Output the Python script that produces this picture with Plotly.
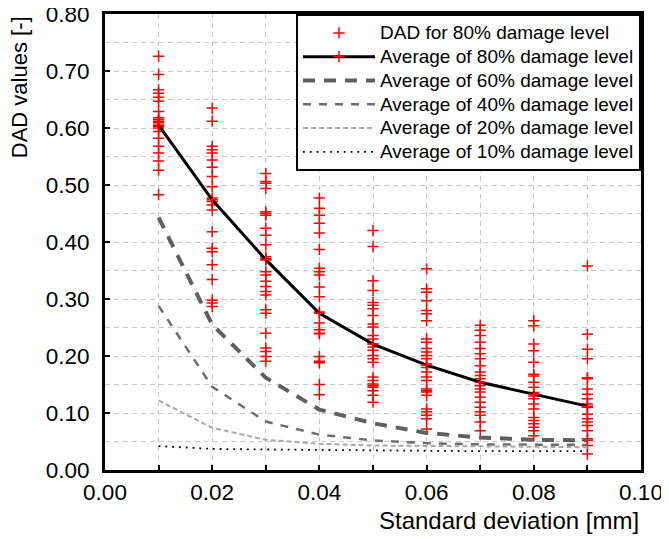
import plotly.graph_objects as go

# ---- data ----
sigma = [0.01, 0.02, 0.03, 0.04, 0.05, 0.06, 0.07, 0.08, 0.09]

dad_80_01 = [0.726, 0.694, 0.667, 0.661, 0.654, 0.647, 0.629, 0.618, 0.615, 0.609, 0.600,
             0.594, 0.582, 0.568, 0.556, 0.542, 0.526, 0.483, 0.605, 0.612, 0.603]
dad_80_02 = [0.635, 0.612, 0.568, 0.562, 0.556, 0.544, 0.531, 0.515, 0.497, 0.477, 0.471,
             0.465, 0.456, 0.418, 0.389, 0.383, 0.360, 0.334, 0.298, 0.293, 0.287]
dad_80_03 = [0.520, 0.506, 0.503, 0.494, 0.453, 0.450, 0.447, 0.424, 0.412, 0.395, 0.374,
             0.371, 0.369, 0.348, 0.342, 0.331, 0.322, 0.313, 0.307, 0.281, 0.275, 0.240,
             0.214, 0.208, 0.199, 0.191]
dad_80_04 = [0.477, 0.459, 0.447, 0.433, 0.416, 0.387, 0.354, 0.348, 0.342, 0.321, 0.304,
             0.277, 0.258, 0.246, 0.240, 0.239, 0.199, 0.191, 0.188, 0.150, 0.132]
dad_80_05 = [0.420, 0.392, 0.332, 0.315, 0.294, 0.289, 0.283, 0.271, 0.256, 0.251, 0.236,
             0.230, 0.221, 0.216, 0.210, 0.201, 0.195, 0.189, 0.163, 0.157, 0.151, 0.148,
             0.145, 0.139, 0.131, 0.119]
dad_80_06 = [0.353, 0.318, 0.312, 0.297, 0.280, 0.274, 0.262, 0.230, 0.224, 0.213, 0.207,
             0.201, 0.195, 0.186, 0.180, 0.172, 0.163, 0.157, 0.142, 0.139, 0.137, 0.131,
             0.107, 0.102, 0.096, 0.090, 0.072]
dad_80_07 = [0.254, 0.245, 0.236, 0.224, 0.213, 0.204, 0.195, 0.183, 0.172, 0.166, 0.160,
             0.148, 0.142, 0.137, 0.128, 0.119, 0.110, 0.102, 0.096, 0.084, 0.069]
dad_80_08 = [0.262, 0.253, 0.221, 0.209, 0.189, 0.168, 0.165, 0.154, 0.145, 0.136, 0.130,
             0.125, 0.116, 0.107, 0.092, 0.087, 0.081, 0.075, 0.069, 0.060]
dad_80_09 = [0.358, 0.238, 0.212, 0.195, 0.162, 0.160, 0.142, 0.133, 0.125, 0.116, 0.110,
             0.098, 0.090, 0.084, 0.078, 0.069, 0.055, 0.052, 0.043, 0.028]

avg_80 = [0.605, 0.474, 0.369, 0.275, 0.221, 0.184, 0.154, 0.133, 0.112]
avg_60 = [0.443, 0.255, 0.162, 0.106, 0.082, 0.065, 0.057, 0.053, 0.052]
avg_40 = [0.288, 0.146, 0.085, 0.062, 0.052, 0.047, 0.045, 0.045, 0.044]
avg_20 = [0.122, 0.074, 0.053, 0.046, 0.043, 0.042, 0.041, 0.040, 0.040]
avg_10 = [0.042, 0.037, 0.036, 0.035, 0.034, 0.034, 0.033, 0.033, 0.033]

x_ticks = [0.00, 0.02, 0.04, 0.06, 0.08, 0.10]
y_ticks = [0.00, 0.10, 0.20, 0.30, 0.40, 0.50, 0.60, 0.70, 0.80]

series_names = [
    "DAD for 80% damage level",
    "Average of 80% damage level",
    "Average of 60% damage level",
    "Average of 40% damage level",
    "Average of 20% damage level",
    "Average of 10% damage level",
]

# ---- build ----
columns = [dad_80_01, dad_80_02, dad_80_03, dad_80_04, dad_80_05,
           dad_80_06, dad_80_07, dad_80_08, dad_80_09]
sx, sy = [], []
for xv, col in zip(sigma, columns):
    sx += [xv] * len(col)
    sy += col

FONT = "Liberation Sans, Arial, sans-serif"
RED = "#ff0000"
cross = dict(symbol="cross-thin", size=8, color=RED, line=dict(color=RED, width=1.5))


def lname(s):
    return "<span style='font-size:19px'>" + s + "</span>"


fig = go.Figure()
fig.add_trace(go.Scatter(
    x=sx, y=sy, mode="markers", name=lname(series_names[0]), marker=cross,
))
fig.add_trace(go.Scatter(
    x=sigma, y=avg_80, mode="lines+markers", name=lname(series_names[1]),
    line=dict(color="black", width=3), marker=cross,
))
fig.add_trace(go.Scatter(
    x=sigma, y=avg_60, mode="lines", name=lname(series_names[2]),
    line=dict(color="#5f5f5f", width=4, dash="12px,9px"),
))
fig.add_trace(go.Scatter(
    x=sigma, y=avg_40, mode="lines", name=lname(series_names[3]),
    line=dict(color="#6e6e6e", width=2.5, dash="8px,8px"),
))
fig.add_trace(go.Scatter(
    x=sigma, y=avg_20, mode="lines", name=lname(series_names[4]),
    line=dict(color="#a8a8a8", width=2, dash="5px,3px"),
))
fig.add_trace(go.Scatter(
    x=sigma, y=avg_10, mode="lines", name=lname(series_names[5]),
    line=dict(color="black", width=1.8, dash="1.8px,5px"),
))

grid = dict(gridcolor="#c8c8c8", gridwidth=1, griddash="5px,4px")

fig.update_layout(
    width=661, height=531,
    margin=dict(l=97, r=28, t=6, b=69),
    paper_bgcolor="white", plot_bgcolor="white",
    font=dict(family=FONT, color="black"),
    showlegend=True,
    legend=dict(
        x=1.0, xanchor="right", y=1.0, yanchor="top",
        bgcolor="white", bordercolor="black", borderwidth=2,
        font=dict(family=FONT, size=16, color="black"),
        itemwidth=72, tracegroupgap=0,
    ),
    xaxis=dict(
        range=[0, 0.1], tickvals=x_ticks, tickformat=".2f", automargin=False,
        ticklabeloverflow="allow",
        showline=True, linecolor="black", linewidth=3, mirror=True,
        ticks="inside", ticklen=5, tickwidth=2, tickcolor="black",
        tickfont=dict(size=22.5), showgrid=True, zeroline=False,
        minor=dict(dtick=0.01, showgrid=True, ticks="inside", ticklen=5,
                   tickwidth=2, tickcolor="black", **grid),
        **grid,
    ),
    yaxis=dict(
        range=[0, 0.8], tickvals=y_ticks, tickformat=".2f", automargin=False,
        ticklabeloverflow="allow",
        showline=True, linecolor="black", linewidth=3, mirror=True,
        ticks="inside", ticklen=5, tickwidth=2, tickcolor="black",
        tickfont=dict(size=22.5), showgrid=True, zeroline=False,
        ticklabelstandoff=8,
        minor=dict(dtick=0.05, showgrid=True, ticks="", **grid),
        **grid,
    ),
    annotations=[
        dict(text="Standard deviation [mm]", xref="paper", yref="paper",
             x=1.0, xanchor="right", y=-0.11, yanchor="middle",
             showarrow=False, font=dict(family=FONT, size=24, color="black")),
        dict(text="DAD values [-]", xref="paper", yref="paper",
             x=-0.16, xanchor="center", y=1.0, yanchor="top",
             textangle=-90, showarrow=False,
             font=dict(family=FONT, size=22, color="black")),
    ],
)

fig.write_html("out.html")
